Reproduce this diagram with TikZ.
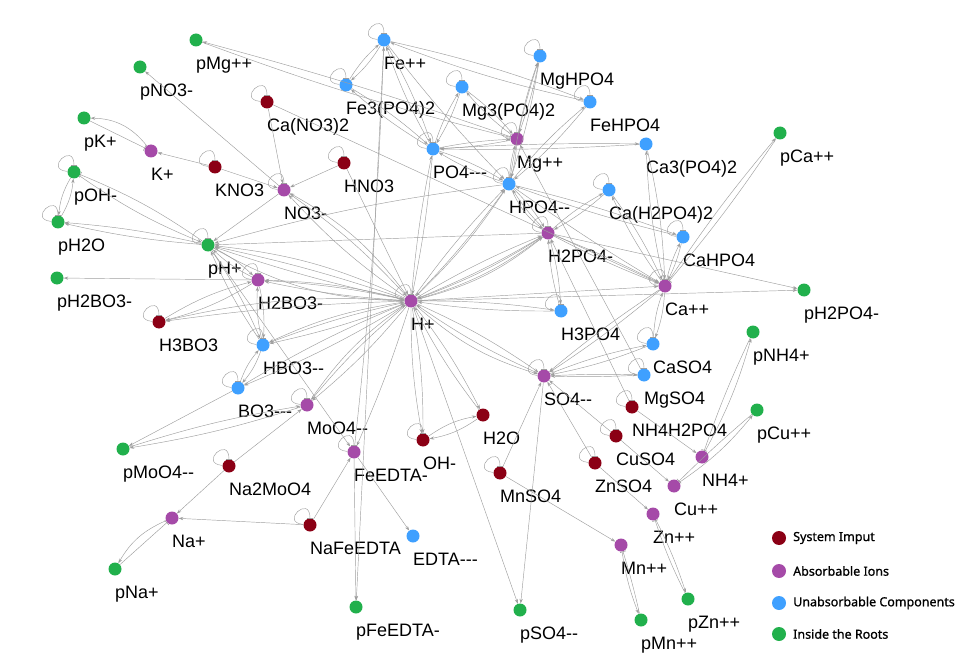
\documentclass[tikz,border=0pt]{standalone}
\usepackage{fontspec}
\usetikzlibrary{arrows.meta}
\newfontfamily\lblfont{Liberation Sans}
\newfontfamily\legfont[FakeBold=0.9]{Noto Sans}
\definecolor{sysred}{RGB}{139,0,21}
\definecolor{ionpurple}{RGB}{165,74,168}
\definecolor{unblue}{RGB}{63,160,255}
\definecolor{rootgreen}{RGB}{33,176,76}
\definecolor{edgegray}{RGB}{158,158,158}
\tikzset{
  sp/.style={circle, inner sep=0pt, minimum size=13pt},
  inp/.style={sp, fill=sysred},
  ion/.style={sp, fill=ionpurple},
  unab/.style={sp, fill=unblue},
  root/.style={sp, fill=rootgreen},
  lbl/.style={font=\lblfont\fontsize{18}{20}\selectfont, inner sep=0pt,
    anchor=north west, text height=13pt, text depth=4pt},
  rx/.style={draw=edgegray, line width=0.45pt, -{Stealth[length=4.5pt,width=3.2pt]}},
  inh/.style={draw=edgegray, line width=0.45pt, -{Bar[width=6pt,line width=0.6pt]}},
  keydot/.style={circle, inner sep=0pt, minimum size=14pt},
  keytxt/.style={font=\legfont\fontsize{12.5}{14}\selectfont, anchor=west, inner sep=0pt}
}
\begin{document}
\begin{tikzpicture}[x=1pt, y=-1pt, label distance=10pt]
\useasboundingbox (0,0) rectangle (969,655);

% species
\node[root, label={[lbl]south:pMg++}] (pMg) at (196,40) {};
\node[root, label={[lbl]south:pNO3-}] (pNO3) at (140,67) {};
\node[unab, label={[lbl]south:Fe++}] (Fe) at (384,40) {};
\node[unab, label={[lbl]south:MgHPO4}] (MgHPO4) at (540,56) {};
\node[unab, label={[lbl]south:Fe3(PO4)2}] (Fe3PO4) at (346,85) {};
\node[unab, label={[lbl]south:Mg3(PO4)2}] (Mg3PO4) at (462,87) {};
\node[unab, label={[lbl]south:FeHPO4}] (FeHPO4) at (590,102) {};
\node[inp, label={[lbl]south:Ca(NO3)2}] (CaNO3) at (267,102) {};
\node[root, label={[lbl]south:pK+}] (pK) at (84,118) {};
\node[ion, label={[lbl]south:Mg++}] (Mg) at (517,139) {};
\node[unab, label={[lbl]south:PO4---}] (PO4) at (433,149) {};
\node[unab, label={[lbl]south:Ca3(PO4)2}] (Ca3PO4) at (646,144) {};
\node[root, label={[lbl]south:pCa++}] (pCa) at (780,133) {};
\node[ion, label={[lbl]south:K+}] (K) at (151,151) {};
\node[inp, label={[lbl]south:KNO3}] (KNO3) at (215,167) {};
\node[inp, label={[lbl]south:HNO3}] (HNO3) at (344,163) {};
\node[root, label={[lbl]south:pOH-}] (pOH) at (74,172) {};
\node[ion, label={[lbl]south:NO3-}] (NO3) at (284,190) {};
\node[unab, label={[lbl]south:HPO4--}] (HPO4) at (509,184) {};
\node[unab, label={[lbl]south:Ca(H2PO4)2}] (CaH2PO4) at (609,190) {};
\node[root, label={[lbl]south:pH2O}] (pH2O) at (58,222) {};
\node[root, label={[lbl]south:pH+}] (pH) at (208,245) {};
\node[ion, label={[lbl]south:H2PO4-}] (H2PO4) at (548,233) {};
\node[unab, label={[lbl]south:CaHPO4}] (CaHPO4) at (683,237) {};
\node[root, label={[lbl]south:pH2BO3-}] (pH2BO3) at (57,278) {};
\node[ion, label={[lbl]south:H2BO3-}] (H2BO3) at (258,280) {};
\node[ion, label={[lbl]south:Ca++}] (Ca) at (665,286) {};
\node[root, label={[lbl]south:pH2PO4-}] (pH2PO4) at (804,290) {};
\node[ion, label={[lbl]south:H+}] (H) at (411,301) {};
\node[unab, label={[lbl]south:H3PO4}] (H3PO4) at (561,311) {};
\node[inp, label={[lbl]south:H3BO3}] (H3BO3) at (159,322) {};
\node[root, label={[lbl]south:pNH4+}] (pNH4) at (753,332) {};
\node[unab, label={[lbl]south:CaSO4}] (CaSO4) at (653,344) {};
\node[unab, label={[lbl]south:HBO3--}] (HBO3) at (263,345) {};
\node[unab, label={[lbl]south:MgSO4}] (MgSO4) at (644,375) {};
\node[ion, label={[lbl]south:SO4--}] (SO4) at (544,376) {};
\node[unab, label={[lbl]south:BO3---}] (BO3) at (238,388) {};
\node[ion, label={[lbl]south:MoO4--}] (MoO4) at (307,405) {};
\node[inp, label={[lbl]south:NH4H2PO4}] (NH4H2PO4) at (632,407) {};
\node[root, label={[lbl]south:pCu++}] (pCu) at (757,410) {};
\node[inp, label={[lbl]south:H2O}] (H2O) at (483,415) {};
\node[inp, label={[lbl]south:OH-}] (OH) at (423,440) {};
\node[inp, label={[lbl]south:CuSO4}] (CuSO4) at (616,436) {};
\node[root, label={[lbl]south:pMoO4--}] (pMoO4) at (123,449) {};
\node[ion, label={[lbl]south:FeEDTA-}] (FeEDTA) at (354,452) {};
\node[ion, label={[lbl]south:NH4+}] (NH4) at (702,457) {};
\node[inp, label={[lbl]south:ZnSO4}] (ZnSO4) at (595,463) {};
\node[inp, label={[lbl]south:Na2MoO4}] (Na2MoO4) at (229,466) {};
\node[inp, label={[lbl]south:MnSO4}] (MnSO4) at (500,473) {};
\node[ion, label={[lbl]south:Cu++}] (Cu) at (674,486) {};
\node[ion, label={[lbl]south:Zn++}] (Zn) at (653,514) {};
\node[ion, label={[lbl]south:Na+}] (Na) at (172,518) {};
\node[inp, label={[lbl]south:NaFeEDTA}] (NaFeEDTA) at (310,525) {};
\node[unab, label={[lbl]south:EDTA---}] (EDTA) at (413,536) {};
\node[ion, label={[lbl]south:Mn++}] (Mn) at (621,545) {};
\node[root, label={[lbl]south:pNa+}] (pNa) at (115,569) {};
\node[root, label={[lbl]south:pZn++}] (pZn) at (688,599) {};
\node[root, label={[lbl]south:pFeEDTA-}] (pFeEDTA) at (356,607) {};
\node[root, label={[lbl]south:pSO4--}] (pSO4) at (520,610) {};
\node[root, label={[lbl]south:pMn++}] (pMn) at (641,620) {};

% self loops
\foreach \n in {Fe,Fe3PO4,Mg3PO4,MgHPO4,FeHPO4,CaNO3,KNO3,HNO3,pOH,pH2O,pH,
  H2BO3,H3BO3,HBO3,BO3,MoO4,FeEDTA,OH,MnSO4,NaFeEDTA,Na2MoO4,PO4,Mg,HPO4,
  CaH2PO4,CaHPO4,H2PO4,H3PO4,SO4,CaSO4,MgSO4,NH4H2PO4,CuSO4,ZnSO4,Ca,H,NO3}
  \draw[inh] (\n.175) .. controls +(175:24pt) and +(90:24pt) .. (\n.90);

% phosphate complexes
\draw[rx] (Fe) to[bend left=8] (Fe3PO4);
\draw[rx] (Fe3PO4) to[bend left=8] (Fe);
\draw[rx] (Fe) to[bend left=4] (FeHPO4);
\draw[rx] (FeHPO4) to[bend left=4] (Fe);
\draw[rx] (Fe) to[bend left=5] (PO4);
\draw[rx] (PO4) to[bend left=5] (Fe);
\draw[rx] (Fe) to[bend right=3] (HPO4);
\draw[rx] (Fe3PO4) to[bend left=5] (PO4);
\draw[rx] (PO4) to[bend left=5] (Fe3PO4);
\draw[rx] (Mg) to[bend right=2] (pMg);
\draw[inh] (pMg) to[bend right=3] (Mg);
\draw[rx] (Mg3PO4) to[bend left=6] (Mg);
\draw[rx] (Mg) to[bend left=6] (Mg3PO4);
\draw[rx] (Mg3PO4) to[bend left=6] (PO4);
\draw[rx] (PO4) to[bend left=6] (Mg3PO4);
\draw[rx] (MgHPO4) to[bend left=4] (Mg);
\draw[rx] (Mg) to[bend left=4] (MgHPO4);
\draw[rx] (MgHPO4) to[bend left=4] (HPO4);
\draw[rx] (HPO4) to[bend left=4] (MgHPO4);
\draw[rx] (FeHPO4) to[bend left=5] (HPO4);
\draw[rx] (HPO4) to[bend left=5] (FeHPO4);
\draw[rx] (Mg) to[bend left=4] (PO4);
\draw[rx] (PO4) to[bend left=4] (Mg);
\draw[rx] (Mg) to[bend left=6] (HPO4);
\draw[rx] (HPO4) to[bend left=6] (Mg);
\draw[rx] (PO4) to[bend left=2] (Ca3PO4);
\draw[rx] (Ca3PO4) to[bend left=2] (PO4);
\draw[rx] (Ca3PO4) to[bend left=5] (Ca);
\draw[rx] (Ca) to[bend left=5] (Ca3PO4);
\draw[rx] (PO4) to[bend left=6] (HPO4);
\draw[rx] (HPO4) to[bend left=6] (PO4);
\draw[rx] (HPO4) to[bend left=6] (H2PO4);
\draw[rx] (H2PO4) to[bend left=6] (HPO4);
\draw[rx] (HPO4) to[bend right=14] (H2PO4);
\draw[rx] (H2PO4) to[bend left=6] (H3PO4);
\draw[rx] (H3PO4) to[bend left=6] (H2PO4);
\draw[rx] (HPO4) to[bend left=3] (CaHPO4);
\draw[rx] (CaHPO4) to[bend left=3] (HPO4);
\draw[rx] (CaHPO4) to[bend left=6] (Ca);
\draw[rx] (Ca) to[bend left=6] (CaHPO4);
\draw[rx] (H2PO4) to[bend left=6] (CaH2PO4);
\draw[rx] (CaH2PO4) to[bend left=6] (H2PO4);
\draw[rx] (CaH2PO4) to[bend left=5] (Ca);
\draw[rx] (Ca) to[bend left=5] (CaH2PO4);
\draw[rx] (H2PO4) to[bend left=3] (Ca);
\draw[rx] (H2PO4) to[bend right=3] (Ca);
\draw[rx] (HPO4) to[bend right=2] (Ca);
\draw[rx] (Ca) to[bend left=3] (pCa);
\draw[inh] (pCa) to[bend left=3] (Ca);
\draw[rx] (H2PO4) -- (pH2PO4);
\draw[rx] (H) -- (pH2PO4);

% nitrate
\draw[rx] (CaNO3) -- (NO3);
\draw[rx] (CaNO3) -- (Ca);
\draw[rx] (KNO3) -- (K);
\draw[rx] (KNO3) -- (NO3);
\draw[rx] (K) to[bend right=25] (pK);
\draw[inh] (pK) -- (K);
\draw[rx] (HNO3) -- (NO3);
\draw[rx] (HNO3) -- (H);
\draw[rx] (NO3) -- (pNO3);
\draw[rx] (NO3) -- (pH);
\draw[rx] (H) to[bend left=6] (NO3);
\draw[rx] (NO3) to[bend left=6] (H);
\draw[rx] (H) to[bend right=12] (NO3);

% water inside the roots
\draw[rx] (pOH) to[bend right=12] (pH2O);
\draw[rx] (pH2O) to[bend right=12] (pOH);
\draw[rx] (pH) to[bend left=4] (pH2O);
\draw[rx] (pH) to[bend right=4] (pH2O);
\draw[inh] (pH) to[bend right=6] (pOH);
\draw[rx] (pOH) to[bend right=6] (pH);
\draw[rx] (H) to[bend left=3] (pH);
\draw[rx] (H) to[bend right=3] (pH);
\draw[rx] (H) to[bend right=9] (pH);
\draw[rx] (pH) to[bend right=14] (H);
\draw[rx] (H2PO4) -- (pH);
\draw[rx] (HPO4) to[bend right=4] (pH);

% borate
\draw[rx] (pH) to[bend left=8] (H2BO3);
\draw[rx] (H2BO3) to[bend left=8] (pH);
\draw[rx] (pH) to[bend left=5] (HBO3);
\draw[rx] (HBO3) to[bend left=5] (pH);
\draw[rx] (pH) -- (FeEDTA);
\draw[rx] (H2BO3) -- (pH2BO3);
\draw[rx] (H3BO3) to[bend left=8] (H2BO3);
\draw[rx] (H2BO3) to[bend left=8] (H3BO3);
\draw[rx] (H2BO3) to[bend left=8] (HBO3);
\draw[rx] (HBO3) to[bend left=8] (H2BO3);
\draw[rx] (HBO3) to[bend left=10] (BO3);
\draw[rx] (BO3) to[bend left=10] (HBO3);
\draw[rx] (H) to[bend left=4] (H2BO3);
\draw[rx] (H) to[bend right=6] (H2BO3);
\draw[rx] (H2BO3) to[bend left=4] (H);
\draw[rx] (H) to[bend left=4] (HBO3);
\draw[rx] (H) to[bend right=8] (HBO3);
\draw[rx] (HBO3) to[bend left=4] (H);
\draw[rx] (H) to[bend left=4] (BO3);
\draw[rx] (BO3) to[bend left=4] (H);
\draw[rx] (H) to[bend right=3] (H3BO3);
\draw[rx] (H) to[bend right=8] (H3BO3);
\draw[rx] (H) to[bend left=5] (MoO4);
\draw[rx] (H) to[bend right=5] (MoO4);
\draw[rx] (MoO4) to[bend left=10] (H);
\draw[rx] (BO3) -- (pMoO4);
\draw[rx] (MoO4) to[bend left=4] (pMoO4);
\draw[rx] (pMoO4) to[bend left=4] (MoO4);

% sodium, EDTA
\draw[rx] (Na2MoO4) -- (MoO4);
\draw[rx] (Na2MoO4) -- (Na);
\draw[rx] (NaFeEDTA) -- (Na);
\draw[rx] (NaFeEDTA) -- (FeEDTA);
\draw[rx] (Na) to[bend right=18] (pNa);
\draw[inh] (pNa) -- (Na);
\draw[rx] (FeEDTA) -- (EDTA);
\draw[rx] (FeEDTA) -- (pFeEDTA);
\draw[rx] (FeEDTA) to[bend right=2] (Fe);
\draw[rx] (Fe) -- (pFeEDTA);
\draw[rx] (H) to[bend left=3] (FeEDTA);

% water
\draw[rx] (H) to[bend right=5] (OH);
\draw[rx] (H) to[bend left=5] (OH);
\draw[rx] (OH) to[bend left=12] (H2O);
\draw[rx] (H2O) to[bend left=12] (OH);
\draw[rx] (H) to[bend left=5] (H2O);
\draw[rx] (H2O) to[bend left=5] (H);

% sulfate
\draw[rx] (H) -- (pSO4);
\draw[rx] (SO4) -- (pSO4);
\draw[rx] (H) to[bend left=5] (SO4);
\draw[rx] (SO4) to[bend left=5] (H);
\draw[rx] (H) to[bend right=12] (SO4);
\draw[rx] (MnSO4) -- (SO4);
\draw[rx] (MnSO4) -- (Mn);
\draw[rx] (ZnSO4) -- (SO4);
\draw[rx] (ZnSO4) -- (Zn);
\draw[rx] (CuSO4) -- (SO4);
\draw[rx] (CuSO4) -- (Cu);
\draw[rx] (NH4H2PO4) -- (NH4);
\draw[rx] (NH4H2PO4) -- (H2PO4);
\draw[rx] (MgSO4) to[bend left=2] (SO4);
\draw[rx] (SO4) to[bend left=2] (MgSO4);
\draw[rx] (MgSO4) -- (Mg);
\draw[rx] (CaSO4) to[bend left=5] (SO4);
\draw[rx] (SO4) to[bend left=5] (CaSO4);
\draw[rx] (CaSO4) to[bend left=8] (Ca);
\draw[rx] (Ca) to[bend left=8] (CaSO4);
\draw[rx] (Ca) to[bend left=3] (SO4);
\draw[rx] (Ca) to[bend right=3] (SO4);
\draw[rx] (NH4) to[bend right=6] (pNH4);
\draw[inh] (pNH4) to[bend right=3] (NH4);
\draw[rx] (Cu) to[bend right=8] (pCu);
\draw[inh] (pCu) to[bend right=2] (Cu);
\draw[rx] (Zn) to[bend left=4] (pZn);
\draw[inh] (pZn) to[bend left=4] (Zn);
\draw[rx] (Mn) to[bend right=6] (pMn);
\draw[inh] (pMn) to[bend right=2] (Mn);

% proton exchange with phosphates
\draw[rx] (H) to[bend left=3] (PO4);
\draw[rx] (PO4) to[bend left=3] (H);
\draw[rx] (H) to[bend left=4] (HPO4);
\draw[rx] (H) to[bend right=6] (HPO4);
\draw[rx] (HPO4) to[bend left=4] (H);
\draw[rx] (H) to[bend left=4] (H2PO4);
\draw[rx] (H) to[bend right=6] (H2PO4);
\draw[rx] (H) to[bend right=12] (H2PO4);
\draw[rx] (H2PO4) to[bend left=4] (H);
\draw[rx] (H2PO4) to[bend left=10] (H);
\draw[rx] (H) to[bend left=4] (H3PO4);
\draw[rx] (H3PO4) to[bend left=4] (H);
\draw[rx] (H) -- (Ca);

% key
\node[keydot, fill=sysred] (kin) at (779,538) {};
\node[keytxt] (tin) at (793,538) {System Imput};
\node[keydot, fill=ionpurple] (kion) at (779,571) {};
\node[keytxt] (tion) at (793,571) {Absorbable Ions};
\node[keydot, fill=unblue] (kun) at (779,603) {};
\node[keytxt] (tun) at (793,603) {Unabsorbable Components};
\node[keydot, fill=rootgreen] (kroot) at (779,634) {};
\node[keytxt] (troot) at (793,634) {Inside the Roots};
\end{tikzpicture}
\end{document}
